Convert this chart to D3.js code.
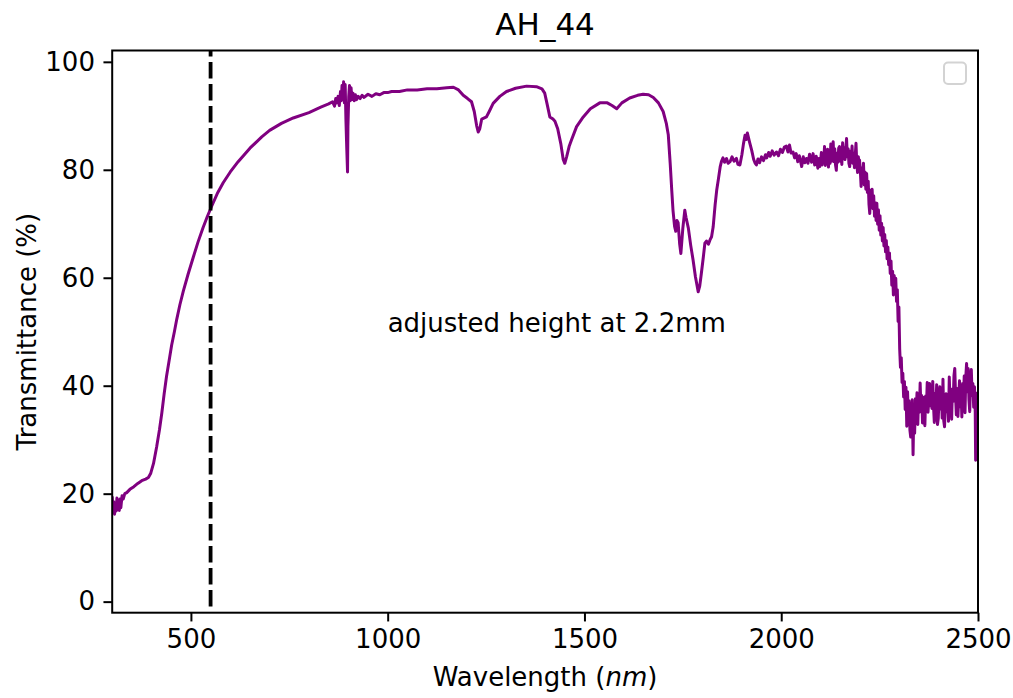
<!DOCTYPE html>
<html>
<head>
<meta charset="utf-8">
<script src="https://cdn.jsdelivr.net/npm/d3@7"></script>
<style>
  html, body { margin: 0; padding: 0; background: #fff; }
  svg text { font-family: "DejaVu Sans", sans-serif; fill: #000; }
</style>
</head>
<body>
<svg id="chart" width="1013" height="698"></svg>
<script>
// ---------- data ----------
const chartTitle = "AH_44";
const annotationText = "adjusted height at 2.2mm";
const annotationAt = [1000, 50];
const markerWavelength = 550;
const xTicks = [500, 1000, 1500, 2000, 2500];
const yTicks = [0, 20, 40, 60, 80, 100];

// [wavelength nm, transmittance %]
const visibleEdge = [
  [300,19.5],[302,17],[304,18.5],[306,16.2],[308,18],[310,16.8],[312,19.2],[314,17],[316,18.8],[318,16.9],
  [320,19],[322,17.4],[325,19.6],[328,19],[332,20],[337,20.2],[345,20.8],[355,21.3],[365,21.9],[375,22.4],
  [385,22.7],[392,23],[398,23.8],[405,25.6],[413,28.7],[420,31.8],[426,34.9],[432,38.5],[438,41.7],[445,44.8],
  [451,47.5],[458,50.0],[464,52.3],[472,55.0],[481,57.6],[493,60.7],[506,63.8],[518,66.6],[531,69.3],[542,71.4],
  [553,73.3],[567,75.6],[582,77.6],[600,79.6],[620,81.5],[650,84.0],[680,86.1],[700,87.3],[730,88.6],[760,89.6],
  [800,90.6],[830,91.6],[850,92.2],[860,92.6]
];
const detectorSwitch = [
  [865,91.8],[868,93.2],[871,92.4],[874,93.6],[877,91.9],[880,94.5],[882,92.8],[884,95.6],[886,93],[888,96.3],
  [890,92.4],[892,95.8],[894,89],[896,84],[898,79.6],[899,88],[901,93.5],[903,95.6],[905,92.8],[907,95.2],
  [909,93],[912,94.2],[915,92.8],[918,93.9],[921,93],[925,93.6],[930,93.2],[935,93.8],[940,93.4],[950,94],
  [960,93.6],[970,94.1],[980,93.9],[990,94.3],[1000,94.3],[1010,94.5],[1030,94.5],[1050,94.8],[1075,94.8],[1100,95],
  [1125,95],[1150,95.2],[1167,95.3],[1180,94.8]
];
const nirBands = [
  [1192,93.8],[1203,93.2],[1213,92.6],[1220,90.8],[1226,88.2],[1230,87],[1234,87.6],[1239,89.4],[1251,89.8],[1258,90.8],
  [1268,92.3],[1285,93.6],[1302,94.5],[1325,95.1],[1353,95.5],[1378,95.4],[1392,95],[1399,94.2],[1405,92.2],[1412,89.8],
  [1420,89.4],[1425,89],[1432,87.6],[1440,84.8],[1446,81.9],[1450,81.2],[1455,82.5],[1461,84.3],[1467,85.5],[1480,88],
  [1497,89.8],[1515,91.3],[1539,92.4],[1558,92.4],[1570,91.9],[1582,91.3],[1595,92.4],[1615,93.3],[1635,93.8],[1649,94],
  [1663,93.9],[1675,93.4],[1688,92.4],[1700,90.8],[1708,88.6],[1713,86.5],[1718,81],[1722,76],[1725,72.5],[1729,69.5],
  [1732,68.6],[1735,70.6],[1738,70.2],[1742,66.2],[1745,64.5],[1750,69.2],[1755,72.5],[1758,71.2],[1764,69.2],[1770,66],
  [1776,63.3],[1782,60.2],[1789,57.4],[1793,58.5],[1797,60.8],[1802,63.8],[1806,66.4],[1810,66.8],[1815,66.2],[1819,67],
  [1823,67.6],[1827,69.4],[1832,73.5],[1836,76.2],[1840,78.1],[1845,80.6],[1848,81.5],[1852,82.2],[1856,81.4],[1861,82.1],
  [1865,81.2],[1870,81.5],[1875,82.4],[1880,81.6],[1886,82.1],[1890,81],[1895,80.9],[1900,82.8],[1904,84.8],[1908,86.4],
  [1911,85.6],[1914,86.8],[1916,86.2],[1920,85],[1925,83.6],[1930,81.9],[1934,81.2],[1937,80.9],[1941,82],[1945,81.3]
];
const swirPlateau = [
  [1950,82.4],[1955,81.7],[1960,82.8],[1963,82.2],[1968,83.2],[1972,82.5],[1977,83.5],[1982,82.7],[1988,83.3],[1993,82.6],
  [1998,83.8],[2003,83.2],[2008,84.2],[2013,84.4],[2017,83.3],[2021,84.6],[2025,83.1],[2030,83.3],[2034,82.2],[2038,83],
  [2042,81.5],[2046,82.6],[2052,80.6],[2056,82.4],[2060,81.3],[2064,82.1],[2068,81.2],[2072,82.9],[2077,81.4],[2081,83],
  [2085,80.9],[2089,82.5],[2093,80.3],[2096,82.1],[2098,80.6],
  [2100,81.6],[2102,83.2],[2104,80.9],[2106,82.8],[2108,81.4],[2110,84.3],[2112,80.8],[2114,83.6],[2116,81.2],[2118,83.8],
  [2120,80.5],[2122,82.9],[2124,81.2],[2126,84.8],[2128,81.6],[2130,83.7],[2132,85.2],[2134,81.5],[2136,83.9],[2138,80.9],
  [2140,79.9],[2142,83.1],[2144,81.4],[2146,84.0],[2148,84.3],[2150,81.6],[2152,83.4],[2154,81.0],[2156,85.0],[2158,82.2],
  [2160,84.1],[2162,81.9],[2164,83.7],[2166,85.8],[2168,82.4],[2170,83.9],[2172,81.2],[2174,80.6],[2176,83.5],[2178,82.0],
  [2180,84.4],[2182,81.2],[2184,83.1],[2186,80.4],[2188,82.6],[2190,84.9],[2192,81.1],[2194,79.5],[2196,82.4],[2198,80.3],
  [2199,81.8]
];
const swirEdge = [
  [2201,79.8],[2203,76.9],[2205,80.4],[2207,78.1],[2209,81.2],[2211,77.2],[2213,79.6],[2215,76.4],[2217,79.3],[2219,75.8],
  [2221,77.9],[2223,73.6],[2225,71.9],[2227,76.2],[2229,74.1],[2231,76.4],[2233,72.8],[2235,75.2],[2237,71.4],[2239,73.9],
  [2241,70.6],[2243,73.8],[2245,69.9],[2247,72.6],[2249,68.8],[2251,71.5],[2253,67.9],[2255,70.1],[2257,66.8],[2259,69.3],
  [2261,65.9],[2263,68.0],[2265,64.8],[2267,66.9],[2269,63.5],[2271,65.7],[2273,62.4],[2275,64.6],[2277,60.8],[2279,63.1],
  [2281,58.6],[2283,61.2],[2285,56.8],[2287,60.4],[2289,57.3],[2291,59.9],[2293,55.6],[2295,57.8],[2297,51.9],[2299,54.6],
  [2301,46.8],[2303,43.4],[2305,45.2],[2307,40.6],[2309,42.3],[2311,37.9],[2313,40.8],[2315,35.6],[2317,39.7],[2319,32.5],
  [2321,38.9],[2323,33.5],[2325,37.2],[2327,31.8],[2329,30.5],[2331,33.2],[2333,37.4],[2335,27.2],[2337,35.8],[2339,31.2],
  [2341,37.6],[2343,34.8],[2345,38.7],[2347,32.8],[2349,37.9],[2351,35.1],[2353,40.5],[2355,35.8],[2357,38.2],[2359,33.1],
  [2361,37.8],[2363,36.2],[2365,32.6],[2367,38.1],[2369,35.9],[2371,40.6],[2373,35.1],[2375,37.7],[2377,40.4],[2379,36.3],
  [2381,38.9],[2383,35.8],[2385,40.8],[2387,36.2],[2389,33.2],[2391,38.6],[2393,35.9],[2395,40.2],[2397,32.8],[2399,33.9],
  [2401,37.8],[2403,39.8],[2405,35.7],[2407,38.4],[2409,34.0],[2411,41.2],[2413,33.5],[2415,32.4],[2417,36.9],[2419,38.5],
  [2421,35.2],[2423,37.8],[2425,33.4],[2427,41.6],[2429,36.8],[2431,38.6],[2433,33.8],[2435,39.4],[2437,37.1],[2439,41.9],
  [2441,43.2],[2443,38.2],[2445,34.6],[2447,39.5],[2449,34.3],[2451,37.6],[2453,40.9],[2455,36.1],[2457,38.7],[2459,34.2],
  [2461,40.4],[2463,37.3],[2465,41.8],[2467,35.0],[2469,41.6],[2471,44.1],[2473,38.9],[2475,43.2],[2477,37.4],[2479,35.2],
  [2481,40.6],[2483,43.0],[2485,38.2],[2487,40.4],[2489,36.0],[2491,39.8],[2493,35.1],[2494,26.2],[2496,38.6],[2498,36.2],
  [2500,37]
];
const spectrum = [].concat(visibleEdge, detectorSwitch, nirBands, swirPlateau, swirEdge);

// ---------- layout ----------
const svg = d3.select("#chart");
const plot = { left: 112.2, right: 978, top: 50.5, bottom: 612.7 };
const FONT = 26;

const x = d3.scaleLinear().domain([300, 2500]).range([plot.left, plot.right]);
const y = d3.scaleLinear().domain([-2.05, 102.1]).range([plot.bottom, plot.top]);

// spectrum line
const line = d3.line().x(d => x(d[0])).y(d => y(d[1]));
svg.append("clipPath").attr("id", "clip").append("rect")
  .attr("x", plot.left).attr("y", plot.top)
  .attr("width", plot.right - plot.left).attr("height", plot.bottom - plot.top);

svg.append("path")
  .datum(spectrum)
  .attr("clip-path", "url(#clip)")
  .attr("fill", "none")
  .attr("stroke", "#800080")
  .attr("stroke-width", 3)
  .attr("stroke-linejoin", "round")
  .attr("d", line);

// dashed marker line
svg.append("line")
  .attr("x1", x(markerWavelength)).attr("x2", x(markerWavelength))
  .attr("y1", plot.top).attr("y2", plot.bottom)
  .attr("stroke", "#000")
  .attr("stroke-width", 3.8)
  .attr("stroke-dasharray", "16.5,5.5")
  .attr("stroke-dashoffset", 10.5);

// annotation
svg.append("text")
  .attr("x", x(annotationAt[0]))
  .attr("y", y(annotationAt[1]))
  .attr("font-size", FONT)
  .text(annotationText);

// axes
const xAxis = d3.axisBottom(x).tickValues(xTicks).tickSize(8.75).tickPadding(8.5).tickFormat(d3.format("d"));
const yAxis = d3.axisLeft(y).tickValues(yTicks).tickSize(8.75).tickPadding(8.5).tickFormat(d3.format("d"));

const gx = svg.append("g").attr("transform", `translate(0,${plot.bottom})`).call(xAxis);
const gy = svg.append("g").attr("transform", `translate(${plot.left},0)`).call(yAxis);
[gx, gy].forEach(g => {
  g.select(".domain").remove();
  g.selectAll(".tick line").attr("stroke", "#000").attr("stroke-width", 2);
  g.selectAll(".tick text").attr("font-size", FONT).attr("font-family", "DejaVu Sans, sans-serif").attr("fill", "#000");
});

// frame (spines)
svg.append("rect")
  .attr("x", plot.left).attr("y", plot.top)
  .attr("width", plot.right - plot.left).attr("height", plot.bottom - plot.top)
  .attr("fill", "none").attr("stroke", "#000").attr("stroke-width", 2);

// empty legend frame
svg.append("rect")
  .attr("x", 944).attr("y", 62.5).attr("width", 22).attr("height", 21.5)
  .attr("rx", 4).attr("ry", 4)
  .attr("fill", "#fff").attr("stroke", "#d3d3d3").attr("stroke-width", 2);

// title
svg.append("text")
  .attr("x", (plot.left + plot.right) / 2).attr("y", 35)
  .attr("text-anchor", "middle").attr("font-size", 31)
  .text(chartTitle);

// x label
const xl = svg.append("text")
  .attr("x", (plot.left + plot.right) / 2).attr("y", 686)
  .attr("text-anchor", "middle").attr("font-size", FONT);
xl.append("tspan").text("Wavelength (");
xl.append("tspan").attr("font-style", "italic").text("nm");
xl.append("tspan").text(")");

// y label
svg.append("text")
  .attr("transform", `translate(36,${(plot.top + plot.bottom) / 2}) rotate(-90)`)
  .attr("text-anchor", "middle").attr("font-size", FONT)
  .text("Transmittance (%)");
</script>
</body>
</html>
